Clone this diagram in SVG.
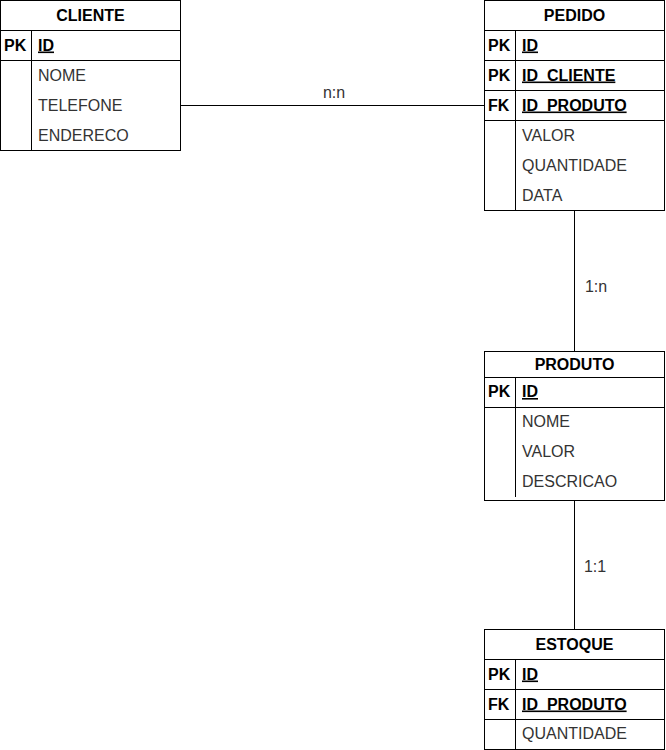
<svg xmlns="http://www.w3.org/2000/svg" width="666" height="750" viewBox="0 0 666 750">
<style>
.box{fill:#fff;stroke:#000;stroke-width:1}
.ln{stroke:#000;stroke-width:1;fill:none}
.h{font-family:"Liberation Sans",Arial,sans-serif;font-size:16px;font-weight:bold;fill:#000;text-anchor:middle}
.k{font-family:"Liberation Sans",Arial,sans-serif;font-size:16px;font-weight:bold;fill:#000}
.ku{font-family:"Liberation Sans",Arial,sans-serif;font-size:16px;font-weight:bold;fill:#000;text-decoration:underline}
.f{font-family:"Liberation Sans",Arial,sans-serif;font-size:16px;fill:#333}
.lbl{font-family:"Liberation Sans",Arial,sans-serif;font-size:16px;fill:#333;text-anchor:middle}
</style>
<rect width="666" height="750" fill="#fff"/>
<g id="connectors">
<path class="ln" d="M180.5 105.5H484.5"/>
<path class="ln" d="M574.5 210.5V351.5"/>
<path class="ln" d="M574.5 501V629.5"/>
<text class="lbl" x="334" y="97.5">n:n</text>
<text class="lbl" x="596" y="291.5">1:n</text>
<text class="lbl" x="595" y="571.5">1:1</text>
</g>
<g id="cliente">
<rect class="box" x="0.5" y="0.5" width="180" height="150"/>
<path class="ln" d="M0.5 30.5H180.5M0.5 60.5H180.5M31.5 30.5V150.5"/>
<text class="h" x="90.5" y="20.5">CLIENTE</text>
<text class="k" x="4" y="50.5">PK</text>
<text class="ku" x="38" y="50.5">ID</text>
<text class="f" x="38" y="80.5">NOME</text>
<text class="f" x="38" y="110.5">TELEFONE</text>
<text class="f" x="38" y="140.5">ENDERECO</text>
</g>
<g id="pedido">
<rect class="box" x="484.5" y="0.5" width="180" height="210"/>
<path class="ln" d="M484.5 30.5H664.5M484.5 60.5H664.5M484.5 90.5H664.5M484.5 120.5H664.5M515.5 30.5V210.5"/>
<text class="h" x="574.5" y="20.5">PEDIDO</text>
<text class="k" x="488" y="50.5">PK</text>
<text class="ku" x="522" y="50.5">ID</text>
<text class="k" x="488" y="80.5">PK</text>
<text class="ku" x="522" y="80.5">ID_CLIENTE</text>
<text class="k" x="488" y="110.5">FK</text>
<text class="ku" x="522" y="110.5">ID_PRODUTO</text>
<text class="f" x="522" y="140.5">VALOR</text>
<text class="f" x="522" y="170.5">QUANTIDADE</text>
<text class="f" x="522" y="200.5">DATA</text>
</g>
<g id="produto">
<rect class="box" x="484.5" y="351.5" width="180" height="149"/>
<path class="ln" d="M484.5 377.5H664.5M484.5 407.5H664.5M515.5 377.5V497"/>
<text class="h" x="574.5" y="369.5">PRODUTO</text>
<text class="k" x="488" y="397">PK</text>
<text class="ku" x="522" y="397">ID</text>
<text class="f" x="522" y="427">NOME</text>
<text class="f" x="522" y="457">VALOR</text>
<text class="f" x="522" y="487">DESCRICAO</text>
</g>
<g id="estoque">
<rect class="box" x="484.5" y="629.5" width="180" height="120"/>
<path class="ln" d="M484.5 659.5H664.5M484.5 689.5H664.5M484.5 719.5H664.5M515.5 659.5V749.5"/>
<text class="h" x="574.5" y="649.5">ESTOQUE</text>
<text class="k" x="488" y="679.5">PK</text>
<text class="ku" x="522" y="679.5">ID</text>
<text class="k" x="488" y="709.5">FK</text>
<text class="ku" x="522" y="709.5">ID_PRODUTO</text>
<text class="f" x="522" y="739">QUANTIDADE</text>
</g>
</svg>
